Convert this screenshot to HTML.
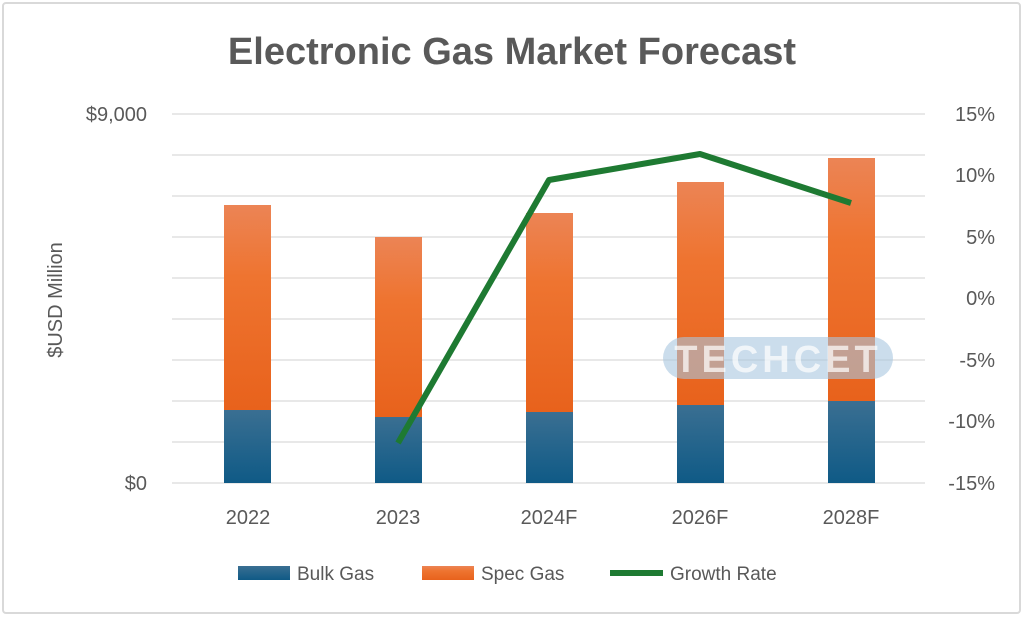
<!DOCTYPE html>
<html><head><meta charset="utf-8"><style>
html,body{margin:0;padding:0;background:#fff;}
svg{display:block;font-family:"Liberation Sans",sans-serif;}
</style></head><body>
<svg width="1024" height="617" viewBox="0 0 1024 617" xmlns="http://www.w3.org/2000/svg">
<defs>
<linearGradient id="og" x1="0" y1="0" x2="0" y2="1">
<stop offset="0" stop-color="#ec8455"/><stop offset="0.35" stop-color="#ee7430"/><stop offset="1" stop-color="#e8621c"/></linearGradient>
<linearGradient id="bg" x1="0" y1="0" x2="0" y2="1">
<stop offset="0" stop-color="#3a6f92"/><stop offset="1" stop-color="#0f5a86"/></linearGradient>
</defs>
<rect x="3" y="3" width="1017" height="610" rx="3" fill="#fff" stroke="#d9d9d9" stroke-width="2"/>
<text x="512" y="64" text-anchor="middle" font-size="38" font-weight="bold" fill="#595959">Electronic Gas Market Forecast</text>
<g stroke="#d9d9d9" stroke-width="1.3">
<line x1="172" x2="925" y1="114" y2="114"/><line x1="172" x2="925" y1="155" y2="155"/>
<line x1="172" x2="925" y1="196" y2="196"/><line x1="172" x2="925" y1="237" y2="237"/>
<line x1="172" x2="925" y1="278" y2="278"/><line x1="172" x2="925" y1="319" y2="319"/>
<line x1="172" x2="925" y1="360" y2="360"/><line x1="172" x2="925" y1="401" y2="401"/>
<line x1="172" x2="925" y1="442" y2="442"/><line x1="172" x2="925" y1="483" y2="483"/>
</g>
<g font-size="20" fill="#595959">
<text x="147" y="121" text-anchor="end">$9,000</text>
<text x="147" y="490" text-anchor="end">$0</text>
<g text-anchor="end">
<text x="995" y="121">15%</text><text x="995" y="182">10%</text><text x="995" y="244">5%</text>
<text x="995" y="305">0%</text><text x="995" y="367">-5%</text><text x="995" y="428">-10%</text>
<text x="995" y="490">-15%</text></g>
<g text-anchor="middle">
<text x="248" y="524">2022</text><text x="398" y="524">2023</text><text x="549" y="524">2024F</text>
<text x="700" y="524">2026F</text><text x="851" y="524">2028F</text></g>
<text transform="translate(62,300) rotate(-90)" text-anchor="middle">$USD Million</text>
</g>
<g>
<rect x="224" y="205" width="47" height="205" fill="url(#og)"/><rect x="224" y="410" width="47" height="73" fill="url(#bg)"/>
<rect x="375" y="237" width="47" height="180" fill="url(#og)"/><rect x="375" y="417" width="47" height="66" fill="url(#bg)"/>
<rect x="526" y="213" width="47" height="199" fill="url(#og)"/><rect x="526" y="412" width="47" height="71" fill="url(#bg)"/>
<rect x="677" y="182" width="47" height="223" fill="url(#og)"/><rect x="677" y="405" width="47" height="78" fill="url(#bg)"/>
<rect x="828" y="158" width="47" height="243" fill="url(#og)"/><rect x="828" y="401" width="47" height="82" fill="url(#bg)"/>
</g>
<rect x="663" y="337" width="230" height="42" rx="21" fill="#a9c6e0" opacity="0.6"/>
<text x="778" y="372" text-anchor="middle" font-size="38" font-weight="bold" fill="#fff" fill-opacity="0.7" letter-spacing="4">TECHCET</text>
<polyline points="398,443 549,180 700,154 851,203" fill="none" stroke="#1e7a32" stroke-width="6" stroke-linejoin="round"/>
<g font-size="19" fill="#595959">
<rect x="238" y="566" width="52" height="14" fill="url(#bg)"/><text x="297" y="580">Bulk Gas</text>
<rect x="422" y="566" width="52" height="14" fill="url(#og)"/><text x="481" y="580">Spec Gas</text>
<line x1="610" x2="663" y1="573" y2="573" stroke="#1e7a32" stroke-width="6"/><text x="670" y="580">Growth Rate</text>
</g>
</svg>
</body></html>
